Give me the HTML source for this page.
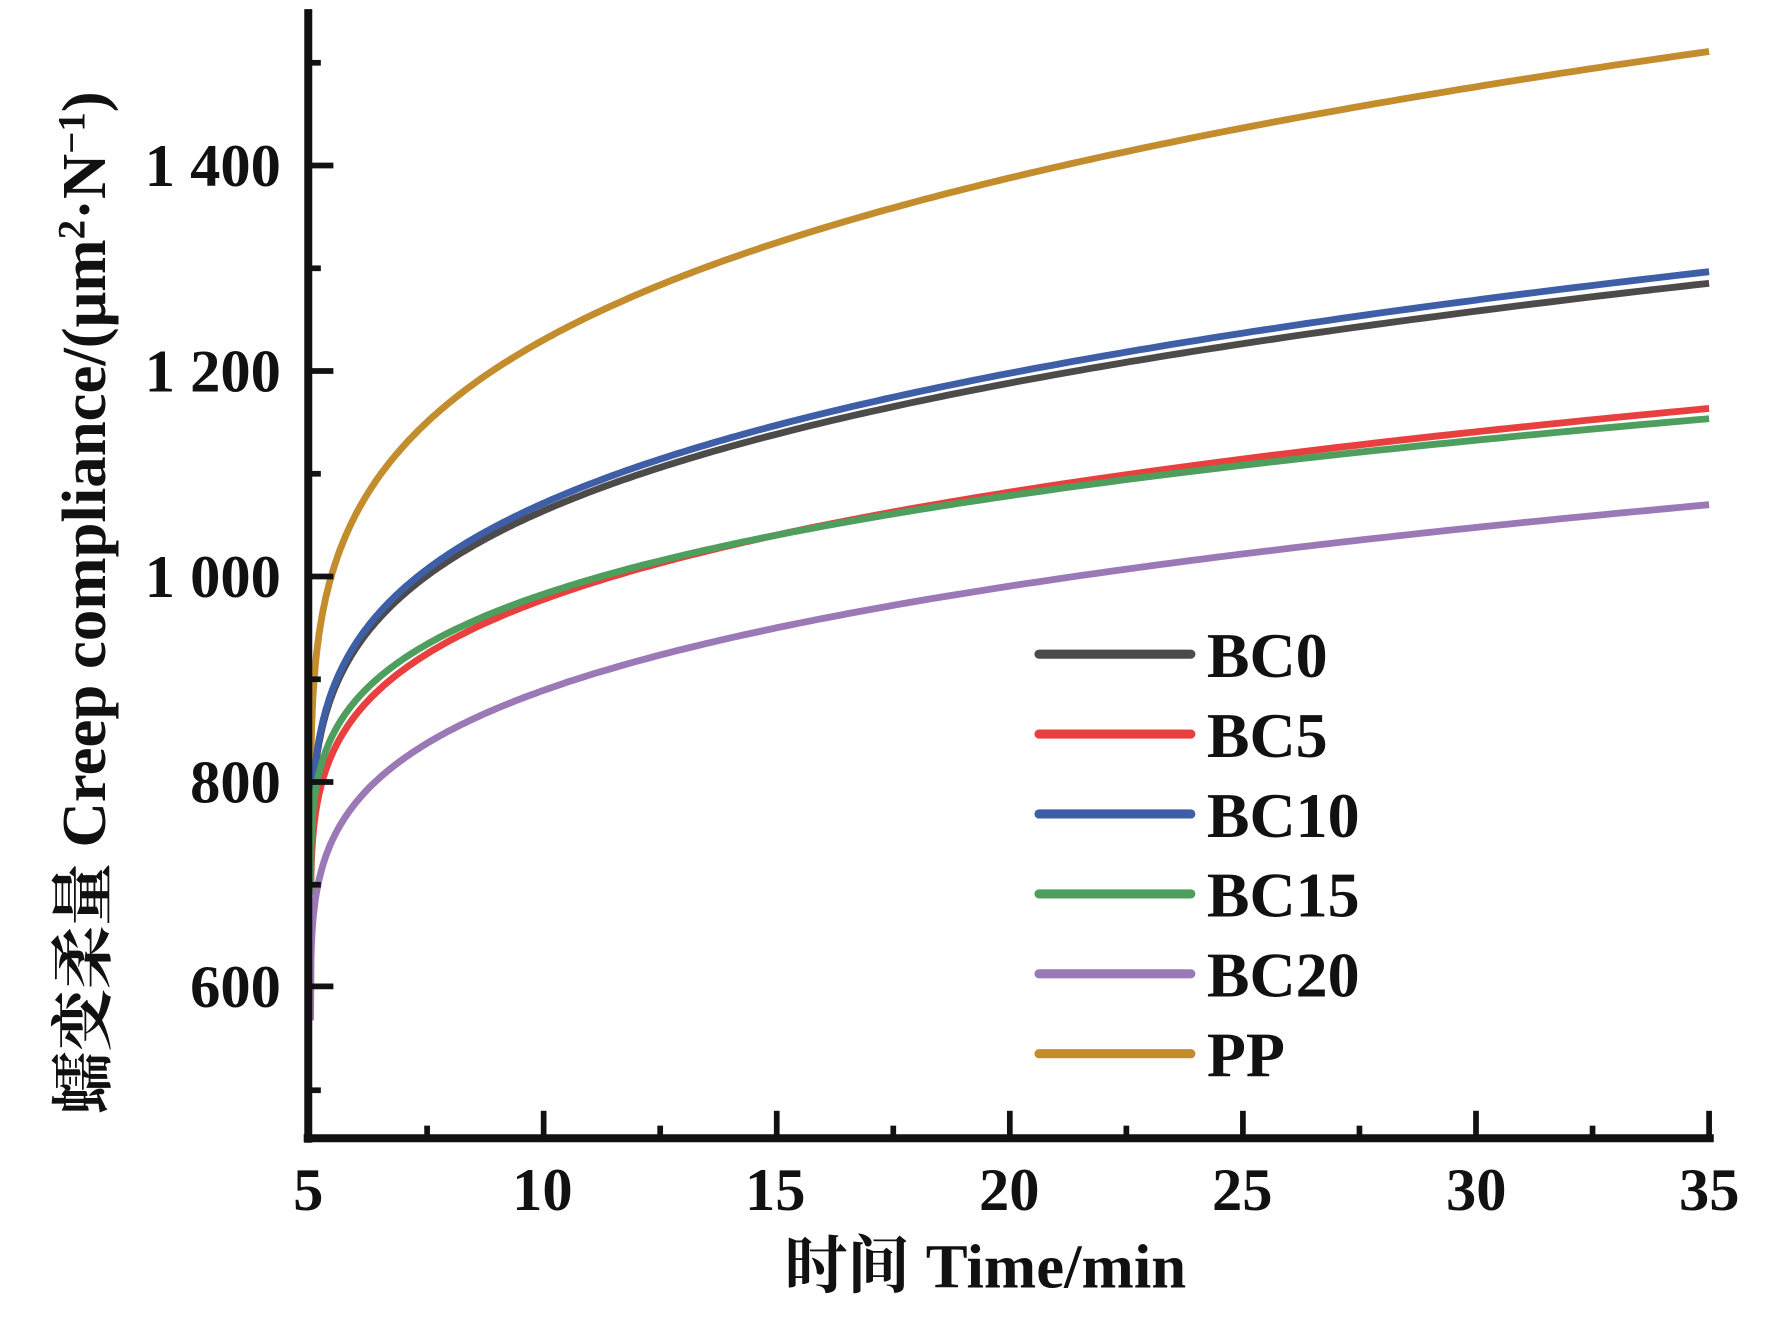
<!DOCTYPE html>
<html><head><meta charset="utf-8"><style>
html,body{margin:0;padding:0;background:#fff;}
svg{display:block;}
text{font-family:"Liberation Serif","Noto Serif CJK SC",serif;fill:#111;}
</style></head><body>
<svg id="s" width="1772" height="1322" viewBox="0 0 1552 1158" preserveAspectRatio="none" xmlns="http://www.w3.org/2000/svg">
<g id="curves" fill="none" stroke-width="6" stroke-linejoin="round"></g>
<g stroke="#111" fill="none">
<line x1="270" y1="8" x2="270" y2="1001" stroke-width="7"/>
<line x1="266" y1="997" x2="1501" y2="997" stroke-width="7"/>
<g stroke-width="5" id="ticks"></g>
</g>
<g font-size="53" font-weight="bold" text-anchor="end">
<text x="246" y="163">1 400</text>
<text x="246" y="343">1 200</text>
<text x="246" y="523">1 000</text>
<text x="246" y="703">800</text>
<text x="246" y="882">600</text>
</g>
<g font-size="53" font-weight="bold" text-anchor="middle">
<text x="270" y="1060">5</text><text x="475" y="1060">10</text><text x="679" y="1060">15</text>
<text x="884" y="1060">20</text><text x="1088" y="1060">25</text><text x="1293" y="1060">30</text><text x="1497" y="1060">35</text>
<text x="863" y="1128" font-size="55">时间 Time/min</text>
<text transform="translate(92,528) rotate(-90)" font-size="55">蠕变柔量 Creep compliance/(μm<tspan font-size="34" dy="-18">2</tspan><tspan dy="18">·N</tspan><tspan font-size="34" dy="-18">−1</tspan><tspan dy="18">)</tspan></text>
</g>
<g stroke-width="8" stroke-linecap="round">
<line x1="910" y1="573" x2="1043" y2="573" stroke="#4d4a4a"/>
<line x1="910" y1="643" x2="1043" y2="643" stroke="#e8403f"/>
<line x1="910" y1="713" x2="1043" y2="713" stroke="#3f5ea8"/>
<line x1="910" y1="783" x2="1043" y2="783" stroke="#4e9e5d"/>
<line x1="910" y1="853" x2="1043" y2="853" stroke="#9b79b6"/>
<line x1="910" y1="923" x2="1043" y2="923" stroke="#c38d2e"/>
</g>
<g font-size="56" font-weight="bold">
<text x="1057" y="593">BC0</text><text x="1057" y="663">BC5</text><text x="1057" y="733">BC10</text>
<text x="1057" y="803">BC15</text><text x="1057" y="873">BC20</text><text x="1057" y="943">PP</text>
</g>
</svg>
<script>
var t=document.getElementById("ticks"),h="";
[145,325,505,685,864].forEach(function(y){h+='<line x1="270" y1="'+y+'" x2="292" y2="'+y+'"/>';});
[55,235,415,595,775,955].forEach(function(y){h+='<line x1="270" y1="'+y+'" x2="281" y2="'+y+'"/>';});
for(var k=1;k<=12;k++){var x=272+k*2.5*40.83;var L=(k%2==0)?24:11;h+='<line x1="'+x+'" y1="997" x2="'+x+'" y2="'+(997-L)+'"/>';}
t.innerHTML=h;
var S=[["#c38d2e",708,355,694],["#4d4a4a",652,280,700],["#3f5ea8",652,285,700],["#e8403f",632,235,690],["#4e9e5d",665,216,690],["#9b79b6",553,228.5,568]];
var g=document.getElementById("curves"),out="";
S.forEach(function(s){
 var pts=[];var y0=145+(1400-s[3])*0.9;pts.push("272,"+y0.toFixed(1));
 for(var i=0;i<=300;i++){var d=Math.pow(i/300,3)*30;if(d<0.01)d=0.01;var J=s[1]+s[2]*Math.pow(d,0.24);
 var x=272+d*40.83,y=145+(1400-J)*0.9;pts.push(x.toFixed(1)+","+y.toFixed(1));}
 out+='<polyline stroke="'+s[0]+'" points="'+pts.join(" ")+'"/>';
});
g.innerHTML=out;
</script>
</body></html>
